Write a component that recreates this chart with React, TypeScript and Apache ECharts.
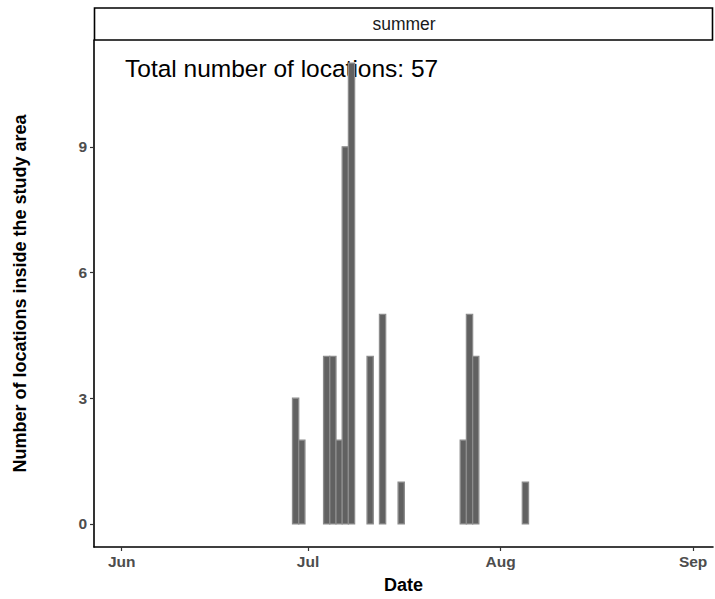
import React, { useEffect, useRef } from "react";
import * as echarts from "echarts";

// Daily counts of locations inside the study area (summer season)
const dates = [
  "2019-06-29", "2019-06-30", "2019-07-04", "2019-07-05", "2019-07-06",
  "2019-07-07", "2019-07-08", "2019-07-11", "2019-07-13", "2019-07-16",
  "2019-07-26", "2019-07-27", "2019-07-28", "2019-08-05",
];
const counts = [3, 2, 4, 4, 2, 9, 11, 4, 5, 1, 2, 5, 4, 1];

const monthTickDates = ["2019-06-01", "2019-07-01", "2019-08-01", "2019-09-01"];
const monthTickLabels = ["Jun", "Jul", "Aug", "Sep"];
const yTicks = [0, 3, 6, 9];

const facetLabel = "summer";
const totalLabel = "Total number of locations: 57";

const DAY = 86400000;
const origin = Date.UTC(2019, 6, 1);
const toDay = (s: string) => {
  const [y, m, d] = s.split("-").map(Number);
  return (Date.UTC(y, m - 1, d) - origin) / DAY;
};

const FONT = "Liberation Sans";

export default function App() {
  const ref = useRef<HTMLDivElement>(null);

  useEffect(() => {
    if (!ref.current) return;
    const chart = echarts.init(ref.current, undefined, { renderer: "svg" });
    const tickDays = monthTickDates.map(toDay);
    const labelByDay = new Map<number, string>();
    tickDays.forEach((d, i) => labelByDay.set(d, monthTickLabels[i]));
    const data = dates.map((d, i) => [toDay(d), counts[i]]);

    chart.setOption({
      animation: false,
      backgroundColor: "#ffffff",
      grid: { left: 94, right: 2, top: 40, bottom: 51, containLabel: false },
      xAxis: {
        type: "value",
        min: -34.46,
        max: 65.2,
        name: "Date",
        nameLocation: "middle",
        nameGap: 29,
        nameTextStyle: { fontFamily: FONT, fontSize: 18, fontWeight: "bold", color: "#000" },
        splitLine: { show: false },
        axisLine: { show: true, onZero: false, lineStyle: { color: "#000", width: 1.6 } },
        axisTick: { show: true, length: 4, customValues: tickDays, lineStyle: { color: "#333", width: 1.2 } },
        axisLabel: {
          customValues: tickDays,
          margin: 6,
          fontFamily: FONT,
          fontSize: 15.5,
          fontWeight: "bold",
          color: "#4d4d4d",
          formatter: (v: number) => labelByDay.get(Math.round(v)) ?? "",
        },
      },
      yAxis: {
        type: "value",
        min: -0.55,
        max: 11.55,
        name: "Number of locations inside the study area",
        nameLocation: "middle",
        nameGap: 65,
        nameTextStyle: { fontFamily: FONT, fontSize: 18, fontWeight: "bold", color: "#000" },
        splitLine: { show: false },
        axisLine: { show: true, onZero: false, lineStyle: { color: "#000", width: 1.6 } },
        axisTick: { show: true, length: 4, customValues: yTicks, lineStyle: { color: "#333", width: 1.2 } },
        axisLabel: {
          customValues: yTicks,
          margin: 7,
          fontFamily: FONT,
          fontSize: 15.5,
          fontWeight: "bold",
          color: "#4d4d4d",
        },
      },
      series: [
        {
          type: "custom",
          data,
          clip: true,
          z: 5,
          renderItem: (params: any, api: any) => {
            const day = api.value(0);
            const val = api.value(1);
            const p0 = api.coord([day - 0.5, 0]);
            const p1 = api.coord([day + 0.5, val]);
            return {
              type: "rect",
              shape: { x: p0[0], y: p1[1], width: p1[0] - p0[0], height: p0[1] - p1[1] },
              style: { fill: "#616161", stroke: "#8c8c8c", lineWidth: 1.3 },
            };
          },
        },
      ],
      graphic: [
        {
          type: "rect",
          z: 0,
          shape: { x: 94.5, y: 8, width: 618, height: 32 },
          style: { fill: "#ffffff", stroke: "#000", lineWidth: 1.6 },
        },
        {
          type: "text",
          z: 0,
          x: 404,
          y: 24,
          style: {
            text: facetLabel,
            fontFamily: FONT,
            fontSize: 17.5,
            fill: "#1a1a1a",
            align: "center",
            verticalAlign: "middle",
          },
        },
        {
          type: "text",
          z: 0,
          x: 125,
          y: 68,
          style: {
            text: totalLabel,
            fontFamily: FONT,
            fontSize: 24.5,
            fill: "#000",
            align: "left",
            verticalAlign: "middle",
          },
        },
      ],
    });

    return () => chart.dispose();
  }, []);

  return (
    <div
      ref={ref}
      style={{ position: "fixed", left: 0, top: 0, width: 715, height: 599 }}
    />
  );
}
